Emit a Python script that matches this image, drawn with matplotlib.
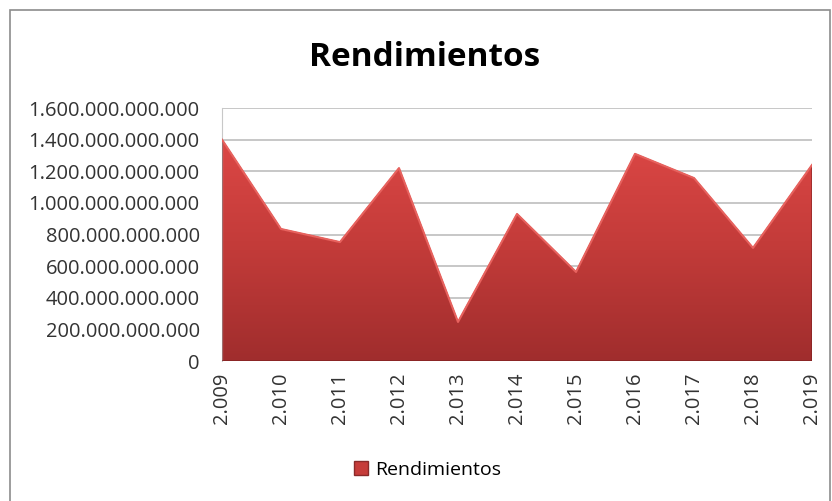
import matplotlib
matplotlib.use("Agg")
import matplotlib.pyplot as plt
import numpy as np
from matplotlib.patches import Patch, Polygon, Rectangle
from matplotlib.ticker import FuncFormatter

years = ["2.009", "2.010", "2.011", "2.012", "2.013", "2.014", "2.015",
         "2.016", "2.017", "2.018", "2.019"]
rendimientos = [1.40e12, 0.835e12, 0.752e12, 1.22e12, 0.247e12, 0.93e12,
                0.563e12, 1.31e12, 1.157e12, 0.715e12, 1.24e12]
yticks = [0, 2e11, 4e11, 6e11, 8e11, 1e12, 1.2e12, 1.4e12, 1.6e12]

plt.rcParams["font.family"] = ["Open Sans", "DejaVu Sans"]

fig = plt.figure(figsize=(8.32, 5.01), dpi=100)
fig.patches.append(Rectangle((0.012, -0.01), 0.985, 0.99, transform=fig.transFigure,
                             fill=False, edgecolor="#8c8c8c", linewidth=1.2))
ax = fig.add_axes([0.2668, 0.2794, 0.7092, 0.505])

x = np.arange(len(rendimientos))
y = np.array(rendimientos)

# relleno con degradado recortado al polígono del área
grad = np.linspace(0, 1, 256).reshape(-1, 1)
cmap = matplotlib.colors.LinearSegmentedColormap.from_list("rojo", ["#a02d2d", "#c23b39", "#dc4745"])
img = ax.imshow(grad, aspect="auto", cmap=cmap, origin="lower",
                extent=[x[0], x[-1], 0, y.max()], zorder=2)
verts = np.vstack([[x[0], 0], np.column_stack([x, y]), [x[-1], 0]])
poly = Polygon(verts, closed=True, facecolor="none", edgecolor="#7a1f1f", linewidth=0.8, zorder=3)
ax.add_patch(poly)
img.set_clip_path(poly)
ax.plot(x, y, color="#e8625e", linewidth=1.5, zorder=4)

ax.set_xlim(x[0], x[-1])
ax.set_ylim(0, 1.6e12)
ax.set_yticks(yticks)
ax.yaxis.set_major_formatter(FuncFormatter(lambda v, p: f"{v:,.0f}".replace(",", ".")))
ax.set_xticks(x)
ax.set_xticklabels(years, rotation=90)
ax.tick_params(axis="both", length=0, labelsize=14.5, colors="#333333")
ax.tick_params(axis="y", pad=16)
ax.tick_params(axis="x", pad=8)
ax.grid(axis="y", color="#bdbdbd", linewidth=1.2)
ax.set_axisbelow(True)
for s in ["top", "right", "bottom"]:
    ax.spines[s].set_visible(False)
ax.spines["left"].set_color("#c8c8c8")

fig.text(0.51, 0.885, "Rendimientos", ha="center", va="center", fontsize=24, fontweight="bold")
fig.legend(handles=[Patch(facecolor="#c63c3a", edgecolor="#8a2a2a", label="Rendimientos")],
           loc="center", bbox_to_anchor=(0.514, 0.062), frameon=False, fontsize=14,
           handlelength=0.7, handleheight=0.7, handletextpad=0.4)

fig.savefig("out.png", dpi=100)
